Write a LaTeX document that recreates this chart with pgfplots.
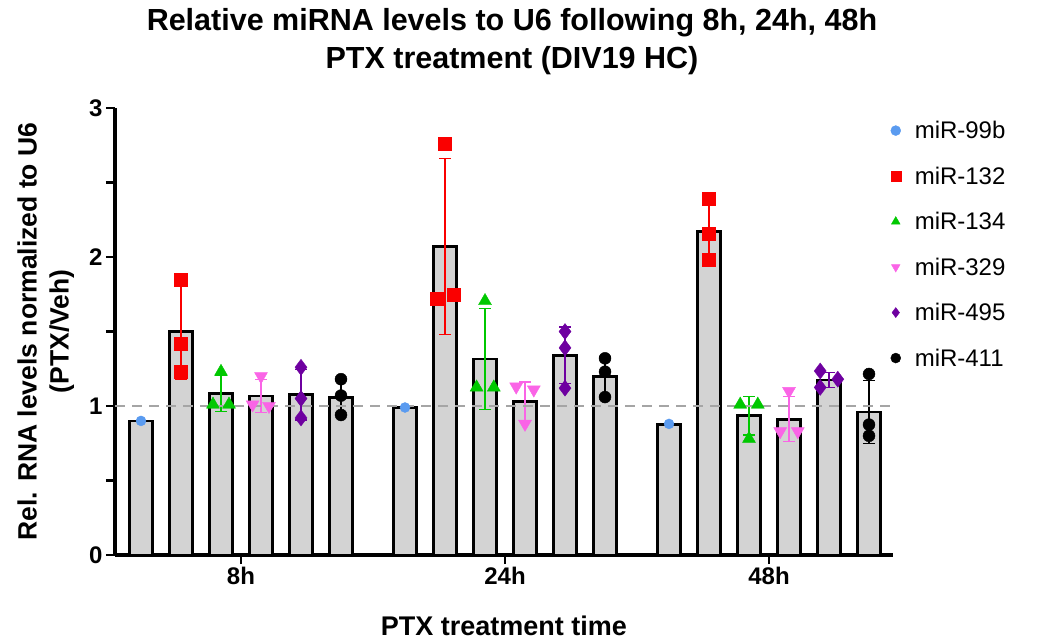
\documentclass[border=0pt]{standalone}
\usepackage{fontspec}
\setmainfont{Liberation Sans}
\usepackage{pgfplots}
\pgfplotsset{compat=1.18}
\definecolor{cA}{RGB}{90,155,240}
\definecolor{cB}{RGB}{250,0,0}
\definecolor{cC}{RGB}{0,200,0}
\definecolor{cD}{RGB}{250,100,230}
\definecolor{cE}{RGB}{110,0,160}
\definecolor{cF}{RGB}{0,0,0}
\definecolor{barfill}{RGB}{211,211,211}
\definecolor{refline}{RGB}{165,165,165}
\pgfplotsset{
  mybar/.style={ybar, bar width=0.57, bar shift=0pt, fill=barfill, draw=black,
    line width=2.8pt, forget plot},
  myerr/.style={error bars/.cd, y dir=both, y explicit,
    error bar style={draw=#1, line width=1.4pt},
    error mark options={rotate=90, draw=#1, mark size=6pt, line width=1.4pt}},
}
\begin{document}
\begin{tikzpicture}
\useasboundingbox (0pt,0pt) rectangle (1040pt,-641pt);
\node[align=center, font=\bfseries\fontsize{30.5}{38}\selectfont] at (512pt,-42pt)
  {Relative miRNA levels to U6 following 8h, 24h, 48h\\PTX treatment (DIV19 HC)};
\begin{axis}[
  at={(115pt,-555pt)}, anchor=south west,
  scale only axis, width=778pt, height=447pt,
  xmin=-0.65, xmax=18.8, ymin=0, ymax=3,
  axis x line*=bottom, axis y line*=left,
  axis line style={line width=3.2pt, black},
  tick align=outside, tick style={line width=2.6pt, black},
  major tick length=9pt, minor tick length=9pt,
  ytick={0,1,2,3}, minor ytick={0.5,1.5,2.5},
  xtick={2.5,9.1,15.7}, xticklabels={8h,24h,48h},
  tick label style={font=\bfseries\fontsize{24}{24}\selectfont},
  /pgf/number format/assume math mode=true,
  ylabel={Rel. RNA levels normalized to U6\\(PTX/Veh)},
  ylabel style={align=center, font=\bfseries\fontsize{26.5}{32}\selectfont,
    at={(axis description cs:-0.089,0.5)}, anchor=center},
  xlabel={PTX treatment time},
  xlabel style={font=\bfseries\fontsize{27}{27}\selectfont,
    at={(axis description cs:0.5,-0.159)}, anchor=center},
  clip=false,
  legend style={at={(axis description cs:0.993,0.98)}, anchor=north west,
    draw=none, fill=none, font=\fontsize{24}{24}\selectfont, row sep=22.6pt},
  legend cell align=left,
  legend image code/.code={\path[draw=none, fill=none] (-5pt,0pt) -- (17pt,0pt);
    \draw[#1] plot[only marks] coordinates {(0pt,0pt)};},
  legend image post style={mark size=5pt},
]
% bars with SD error bars
\addplot[mybar] coordinates {(0,0.90) (6.6,0.99) (13.2,0.875)};
\addplot[mybar, myerr=cB] coordinates {(1,1.50) +- (0,0.32) (7.6,2.07) +- (0,0.59) (14.2,2.17) +- (0,0.20)};
\addplot[mybar, myerr=cC] coordinates {(2,1.085) +- (0,0.12) (8.6,1.315) +- (0,0.34) (15.2,0.935) +- (0,0.13)};
\addplot[mybar, myerr=cD] coordinates {(3,1.067) +- (0,0.11) (9.6,1.03) +- (0,0.13) (16.2,0.912) +- (0,0.15)};
\addplot[mybar, myerr=cE] coordinates {(4,1.075) +- (0,0.17) (10.6,1.34) +- (0,0.19) (17.2,1.175) +- (0,0.05)};
\addplot[mybar, myerr=cF] coordinates {(5,1.055) +- (0,0.12) (11.6,1.20) +- (0,0.13) (18.2,0.96) +- (0,0.21)};
% reference line
\addplot[refline, line width=2.5pt, dash pattern=on 10pt off 7pt, forget plot] coordinates {(-0.65,1) (18.8,1)};
% individual replicates
\addplot[only marks, mark=*, cA, mark size=5pt] coordinates {(0,0.90) (6.6,0.99) (13.2,0.88)};
\addlegendentry{miR-99b}
\addplot[only marks, mark=square*, cB, mark size=6.5pt] coordinates {
  (1,1.845) (1,1.42) (1,1.23)
  (7.6,2.76) (7.38,1.72) (7.82,1.75)
  (14.2,2.39) (14.2,2.155) (14.2,1.98)};
\addlegendentry{miR-132}
\addplot[only marks, mark=triangle*, cC, mark size=7.5pt] coordinates {
  (2,1.23) (1.8,1.01) (2.2,1.01)
  (8.6,1.705) (8.39,1.125) (8.82,1.125)
  (15.2,0.78) (14.98,1.01) (15.42,1.01)};
\addlegendentry{miR-134}
\addplot[only marks, mark=triangle*, mark options={rotate=180}, cD, mark size=7.5pt] coordinates {
  (3,1.2) (2.79,1.01) (3.2,1.0)
  (9.38,1.13) (9.82,1.11) (9.6,0.88)
  (16.2,1.10) (15.98,0.83) (16.42,0.83)};
\addlegendentry{miR-329}
\addplot[only marks, mark=diamond*, cE, mark size=8pt] coordinates {
  (4,1.26) (4,1.05) (4,0.92)
  (10.6,1.50) (10.6,1.39) (10.6,1.12)
  (16.98,1.235) (17.42,1.18) (16.98,1.125)};
\addlegendentry{miR-495}
\addplot[only marks, mark=*, cF, mark size=6pt] coordinates {
  (5,1.18) (5,1.07) (5,0.94)
  (11.6,1.32) (11.6,1.23) (11.6,1.06)
  (18.2,1.215) (18.2,0.875) (18.2,0.80)};
\addlegendentry{miR-411}
\end{axis}
\end{tikzpicture}
\end{document}
